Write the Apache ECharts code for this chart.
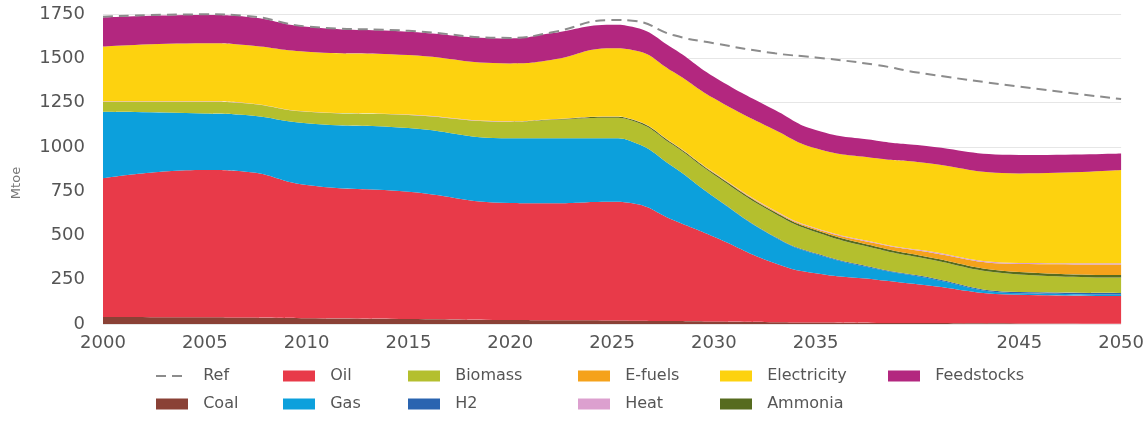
<!DOCTYPE html>
<html>
<head>
<meta charset="utf-8">
<script src="https://cdn.jsdelivr.net/npm/echarts@6/dist/echarts.min.js"></script>
<style>
  html, body { margin: 0; padding: 0; background: #fff; }
  #main { width: 1147px; height: 423px; }
</style>
</head>
<body>
<div id="main"></div>
<script>
// years
const years = [2000, 2005, 2007, 2010, 2015, 2020, 2022, 2025, 2026, 2028, 2030, 2033, 2035, 2038, 2040, 2045, 2050];

// Mtoe per carrier (stacked bottom -> top)
const coal        = [40, 38, 36, 32, 28, 22, 21, 20, 19, 17, 14, 10, 8, 6, 5, 3, 2];
const oil         = [782, 831, 824, 753, 719, 661, 660, 670, 662, 570, 479, 333, 278, 244, 220, 162, 156];
const gas         = [376, 320, 320, 348, 359, 365, 367, 358, 348, 300, 224, 147, 109, 60, 45, 9, 9];
const h2          = [0, 0, 0, 0, 0, 0, 0, 0, 0, 1, 2, 3, 4, 5, 5, 6, 7];
const biomass     = [57, 66, 66, 65, 74, 94, 104, 117, 119, 122, 124, 130, 121, 110, 103, 100, 88];
const ammonia     = [0, 0, 0, 0, 0, 0, 2, 5, 6, 7, 8, 9, 10, 11, 12, 14, 14];
const efuels      = [0, 0, 0, 0, 0, 0, 0, 0, 0, 2, 3, 5, 8, 18, 25, 45, 60];
const heat        = [2, 2, 2, 2, 2, 2, 2, 2, 2, 2, 3, 4, 4, 5, 5, 6, 7];
const electricity = [309, 328, 327, 337, 336, 327, 334, 384, 391, 403, 417, 454, 450, 476, 494, 505, 526];
const feedstocks  = [164, 159, 160, 141, 132, 141, 151, 134, 131, 131, 122, 113, 103, 100, 96, 104, 94];

// reference scenario total
const ref = [1735, 1748, 1740, 1680, 1655, 1615, 1645, 1716, 1712, 1631, 1585, 1528, 1505, 1462, 1420, 1340, 1270];

const yTicks = [0, 250, 500, 750, 1000, 1250, 1500, 1750];
const xTicks = [2000, 2005, 2010, 2015, 2020, 2025, 2030, 2035, 2045, 2050];

// full yearly axis, points only where read
const axisYears = [];
for (let y = 2000; y <= 2050; y++) axisYears.push(String(y));

const layers = [
  ['Coal', coal, '#8a4136'],
  ['Oil', oil, '#e83a49'],
  ['Gas', gas, '#0ca0dc'],
  ['H2', h2, '#2a64b0'],
  ['Biomass', biomass, '#b4bf2e'],
  ['Ammonia', ammonia, '#566b1f'],
  ['E-fuels', efuels, '#f5a21b'],
  ['Heat', heat, '#dca0cf'],
  ['Electricity', electricity, '#fdd20f'],
  ['Feedstocks', feedstocks, '#b3277f']
];

const pairs = arr => years.map((y, i) => [String(y), arr[i]]);

const series = layers.map(([name, vals, color]) => ({
  name: name,
  type: 'line',
  stack: 'total',
  data: pairs(vals),
  smooth: 0.5,
  showSymbol: false,
  symbol: 'none',
  lineStyle: { width: 0, color: color },
  itemStyle: { color: color },
  areaStyle: { color: color, opacity: 1 },
  z: 2
}));

series.push({
  name: 'Ref',
  type: 'line',
  data: pairs(ref),
  smooth: 0.5,
  showSymbol: false,
  symbol: 'rect',
  lineStyle: { width: 2, color: '#8c8c8c', type: [10, 6] },
  itemStyle: { color: 'rgba(0,0,0,0)' },
  z: 5
});

// legend columns (two rows, column by column)
const legendCols = [
  [155, ['Ref', 'Coal']],
  [283, ['Oil', 'Gas']],
  [408, ['Biomass', 'H2']],
  [578, ['E-fuels', 'Heat']],
  [720, ['Electricity', 'Ammonia']],
  [888, ['Feedstocks']]
];

const legends = legendCols.map(([left, names]) => ({
  orient: 'vertical',
  left: left,
  top: 367,
  itemWidth: 32,
  itemHeight: 11,
  itemGap: 10,
  padding: 0,
  selectedMode: false,
  formatter: n => '  ' + n,
  textStyle: { fontFamily: 'DejaVu Sans', fontSize: 16, color: '#555', lineHeight: 18 },
  data: names.map(n => n === 'Ref' ? { name: n } : { name: n, icon: 'rect' })
}));

const chart = echarts.init(document.getElementById('main'), null, { renderer: 'canvas' });
chart.setOption({
  animation: false,
  backgroundColor: '#fff',
  grid: { left: 103, right: 25, top: 14, bottom: 99 },
  legend: legends,
  xAxis: {
    type: 'category',
    data: axisYears,
    boundaryGap: false,
    axisLine: { show: false },
    axisTick: { show: false },
    splitLine: { show: false },
    axisLabel: {
      margin: 10,
      fontFamily: 'DejaVu Sans',
      fontSize: 18,
      color: '#555',
      interval: (idx, val) => xTicks.indexOf(Number(val)) >= 0
    }
  },
  yAxis: {
    type: 'value',
    min: yTicks[0],
    max: yTicks[yTicks.length - 1],
    interval: 250,
    name: 'Mtoe',
    nameLocation: 'middle',
    nameGap: 80,
    nameTextStyle: { fontFamily: 'DejaVu Sans', fontSize: 13, color: '#777', padding: [0, 28, 0, 0] },
    axisLine: { show: false },
    axisTick: { show: false },
    splitLine: { lineStyle: { color: '#e6e6e6', width: 1 } },
    axisLabel: {
      margin: 18,
      fontFamily: 'DejaVu Sans',
      fontSize: 18,
      color: '#555',
      formatter: v => String(v)
    }
  },
  series: series
});
</script>
</body>
</html>
